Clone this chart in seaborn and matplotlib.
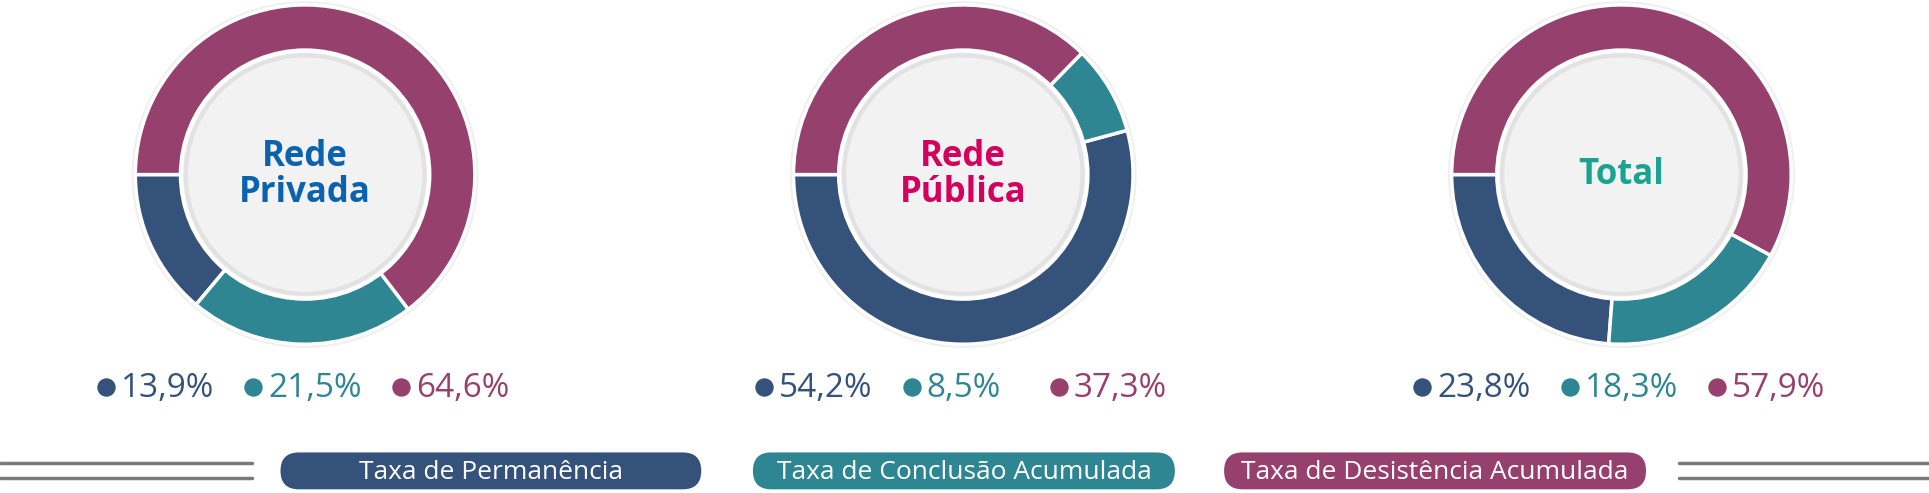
import matplotlib
matplotlib.use("Agg")
import matplotlib.pyplot as plt
import seaborn as sns
from matplotlib.patches import Circle, FancyBboxPatch

sns.set_theme(style="white")
plt.rcParams['font.family'] = ['Liberation Sans Narrow', 'Open Sans', 'DejaVu Sans']

groups = ["Rede\nPrivada", "Rede\nPública", "Total"]
group_colors = ["#0b62ad", "#d4005d", "#1aa391"]
series = ["Taxa de Permanência", "Taxa de Conclusão Acumulada", "Taxa de Desistência Acumulada"]
permanencia = [13.9, 54.2, 23.8]
conclusao = [21.5, 8.5, 18.3]
desistencia = [64.6, 37.3, 57.9]
labels_pct = [["13,9%", "21,5%", "64,6%"], ["54,2%", "8,5%", "37,3%"], ["23,8%", "18,3%", "57,9%"]]
palette = sns.color_palette(["#34527a", "#2e8693", "#96406e"])

fig = plt.figure(figsize=(19.29, 4.93), dpi=100)
ax = fig.add_axes([0, 0, 1, 1])
ax.set_xlim(0, 1568)
ax.set_ylim(401, 0)
ax.axis("off")

centers = [248, 783, 1318]
cy = 142
for i, cx in enumerate(centers):
    vals = [permanencia[i], conclusao[i], desistencia[i]]
    ax.add_patch(Circle((cx, cy), 141, facecolor="#f0f0f0", edgecolor="none", zorder=1))
    wedges, _ = ax.pie(vals, colors=palette, startangle=180, counterclock=False,
                       center=(cx, cy), radius=138, frame=True,
                       wedgeprops=dict(width=38, edgecolor="white", linewidth=2.5))
    for w in wedges:
        w.set_zorder(2)
    ax.add_patch(Circle((cx, cy), 101, facecolor="#f2f2f2", edgecolor="white", linewidth=3, zorder=3))
    ax.add_patch(Circle((cx, cy), 97, facecolor="none", edgecolor="#e2e2e2", linewidth=3, zorder=3))
    ax.text(cx, cy, groups[i], ha="center", va="center", fontsize=25, fontweight="bold",
            color=group_colors[i], family=["Open Sans", "DejaVu Sans"], linespacing=1.0, zorder=4)
    offsets = [-162, -42, 78]
    for j in range(3):
        x0 = cx + offsets[j]
        ax.scatter([x0], [315], s=150, color=palette[j], zorder=4)
        ax.text(x0 + 12, 316, labels_pct[i][j], ha="left", va="center", fontsize=24,
                color=palette[j], zorder=4)
ax.set_xlim(0, 1568)
ax.set_ylim(401, 0)
ax.set_aspect("auto")
ax.axis("off")

bars = [(213, 585), (597, 970), (980, 1353)]
for j, (x0, x1) in enumerate(bars):
    ax.add_patch(FancyBboxPatch((x0 + 15, 368), x1 - x0 - 30, 30,
                                boxstyle="round,pad=0,rounding_size=15",
                                facecolor=palette[j], edgecolor="none", zorder=2))
    ax.text((x0 + x1) / 2, 384, series[j], ha="center", va="center", fontsize=19,
            color="white", zorder=3)
for yl in (377, 389):
    ax.plot([0, 205], [yl, yl], color="#7a7a7a", lw=2.5, solid_capstyle="round")
    ax.plot([1365, 1568], [yl, yl], color="#7a7a7a", lw=2.5, solid_capstyle="round")

fig.savefig("out.png", dpi=100, facecolor="white")
